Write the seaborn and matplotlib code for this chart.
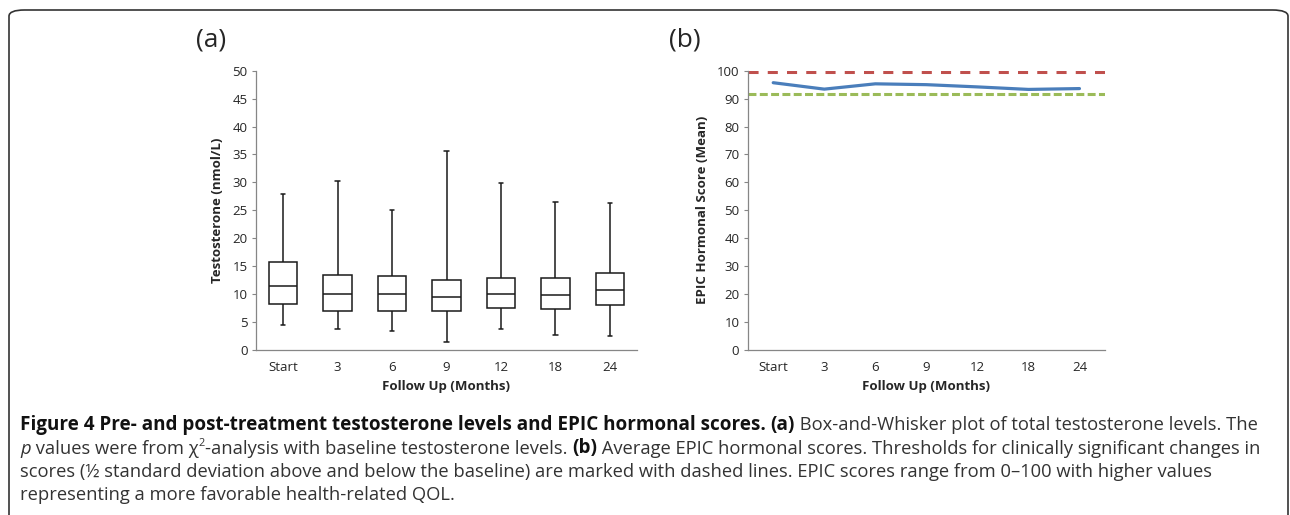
import numpy as np
import pandas as pd
import seaborn as sns
import matplotlib.pyplot as plt
from matplotlib.patches import FancyBboxPatch

sns.set_theme(style="white")
plt.rcParams['font.family'] = ['Open Sans', 'DejaVu Sans']

# follow-up visits
months = ['Start', '3', '6', '9', '12', '18', '24']

# five-number summaries: whisker low, Q1, median, Q3, whisker high
low = [4.4, 3.8, 3.4, 1.5, 3.7, 2.6, 2.5]
q1 = [8.2, 6.9, 6.9, 6.9, 7.5, 7.3, 8.1]
med = [11.4, 10.1, 10.0, 9.4, 10.0, 9.8, 10.7]
q3 = [15.8, 13.5, 13.3, 12.5, 12.8, 12.8, 13.8]
high = [27.9, 30.2, 25.1, 35.7, 29.9, 26.5, 26.4]

# panel (b): mean EPIC hormonal score and the two thresholds
epic = [95.7, 93.4, 95.3, 95.0, 94.2, 93.3, 93.6]
upper_thr = 99.6
lower_thr = 91.6

# long table: the five numbers per visit give exactly these quartiles
rows = []
for i, m in enumerate(months):
    for v in (low[i], q1[i], med[i], q3[i], high[i]):
        rows.append({'month': m, 'value': v})
box_df = pd.DataFrame(rows)
line_df = pd.DataFrame({'month': months, 'score': epic})

fig = plt.figure(figsize=(12.9, 5.15), dpi=100)
W, H = 1290, 515

def fx(px):
    return px / W

def fy(py):
    return 1 - py / H

ax1 = fig.add_axes([fx(256), fy(350), fx(637) - fx(256), fy(70.7) - fy(350)])
ax2 = fig.add_axes([fx(747.7), fy(350), fx(1105) - fx(747.7), fy(70.7) - fy(350)])

sns.boxplot(data=box_df, x='month', y='value', order=months, whis=(0, 100),
            width=0.52, color='white', linecolor='#1a1a1a', linewidth=1.1,
            fliersize=0, capwidths=0.08, ax=ax1)
ax1.set_ylim(0, 50)
ax1.set_yticks(range(0, 51, 5))
ax1.set_xlim(-0.5, 6.5)
ax1.set_ylabel('Testosterone (nmol/L)', fontsize=9.5, fontweight='bold', labelpad=6)

sns.lineplot(data=line_df, x='month', y='score', sort=False, color='#4a7ebb',
             lw=2.3, ax=ax2)
ax2.axhline(upper_thr, color='#c0504d', lw=2.2, ls=(0, (3.3, 3.0)))
ax2.axhline(lower_thr, color='#9bbb59', lw=2.2, ls=(0, (2.6, 1.1)))
ax2.set_ylim(0, 100)
ax2.set_yticks(range(0, 101, 10))
ax2.set_xlim(-0.5, 6.5)
ax2.set_ylabel('EPIC Hormonal Score (Mean)', fontsize=9.5, fontweight='bold', labelpad=6)

for ax in (ax1, ax2):
    ax.set_xlabel('Follow Up (Months)', fontsize=9.5, fontweight='bold', labelpad=4)
    sns.despine(ax=ax)
    for s in ('left', 'bottom'):
        ax.spines[s].set_color('#868686')
        ax.spines[s].set_linewidth(0.9)
    ax.tick_params(axis='y', which='both', left=True, length=3, width=0.8,
                   color='#868686', labelsize=9.5, pad=3)
    ax.tick_params(axis='x', bottom=False, labelsize=9.5, pad=2)
    ax.set_facecolor('white')

fig.text(fx(211), fy(40), '(a)', fontsize=19, ha='center', va='center')
fig.text(fx(685), fy(40), '(b)', fontsize=19, ha='center', va='center')

# outer frame
frame = FancyBboxPatch((fx(9), fy(560)), fx(1288) - fx(9), fy(10) - fy(560),
                       boxstyle='round,pad=0,rounding_size=0.012',
                       transform=fig.transFigure, fill=False,
                       ec='#333333', lw=1.2, clip_on=False)
fig.patches.append(frame)

# caption, drawn piece by piece
cap_font = ['Open Sans', 'DejaVu Sans']
cap_size = 13.2
bold_size = 13.6
cap_color = '#333333'
renderer = fig.canvas.get_renderer()

def write_line(pieces, x0, y0):
    x = x0
    for txt, style in pieces:
        kw = dict(fontsize=cap_size, color=cap_color, family=cap_font, va='baseline')
        yy = y0
        if style == 'b':
            kw['fontweight'] = 'bold'
            kw['fontsize'] = bold_size
            kw['color'] = '#111111'
        elif style == 'i':
            kw['fontstyle'] = 'italic'
        elif style == 'sup':
            kw['fontsize'] = cap_size * 0.6
            yy = y0 + 8 / H
        t = fig.text(x, yy, txt, **kw)
        bb = t.get_window_extent(renderer=renderer)
        x = x + bb.width / W
    return x

lines = [
    [('Figure 4 Pre- and post-treatment testosterone levels and EPIC hormonal scores.', 'b'),
     (' ', 'n'), ('(a)', 'b'),
     (' Box-and-Whisker plot of total testosterone levels. The', 'n')],
    [('p', 'i'), (' values were from \u03c7', 'n'), ('2', 'sup'),
     ('-analysis with baseline testosterone levels. ', 'n'), ('(b)', 'b'),
     (' Average EPIC hormonal scores. Thresholds for clinically significant changes in', 'n')],
    [('scores (\u00bd standard deviation above and below the baseline) are marked with dashed lines. '
      'EPIC scores range from 0\u2013100 with higher values', 'n')],
    [('representing a more favorable health-related QOL.', 'n')],
]
baselines = [430, 453.5, 477, 500.5]
for pieces, b in zip(lines, baselines):
    write_line(pieces, fx(20), fy(b))

fig.savefig('out.png', dpi=100, facecolor='white')
